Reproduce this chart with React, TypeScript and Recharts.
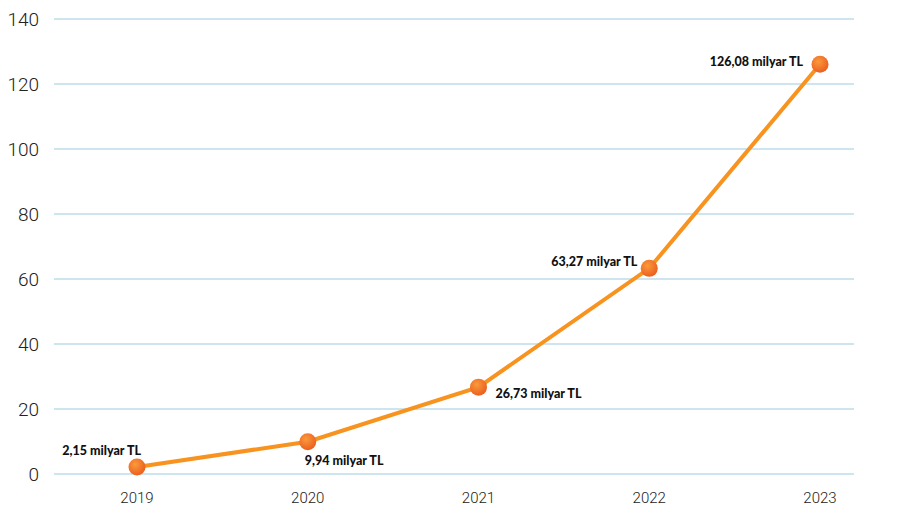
import React from "react";
import { LineChart, Line, XAxis, YAxis, CartesianGrid, LabelList } from "recharts";

const years = ["2019", "2020", "2021", "2022", "2023"];
const values = [2.15, 9.94, 26.73, 63.27, 126.08];
const valueLabels = ["2,15 milyar TL", "9,94 milyar TL", "26,73 milyar TL", "63,27 milyar TL", "126,08 milyar TL"];
const yTicks = [0, 20, 40, 60, 80, 100, 120, 140];

const data = years.map((y, i) => ({ year: y, value: values[i], label: valueLabels[i] }));

// label placement relative to point: [dx, dy, anchor]
const placement: [number, number, "start" | "end"][] = [
  [4, -17, "end"],
  [-3, 19, "start"],
  [17, 6, "start"],
  [-12, -7, "end"],
  [-17, -3, "end"],
];

const renderLabel = (props: any) => {
  const { x, y, index, value } = props;
  const [dx, dy, anchor] = placement[index];
  return (
    <text
      x={x + dx}
      y={y + dy}
      textAnchor={anchor}
      dominantBaseline="central"
      fontFamily="Lato, 'Open Sans', sans-serif"
      fontWeight={900}
      fontSize={12.5}
      fill="#111"
    >
      {value}
    </text>
  );
};

const renderDot = (props: any) => {
  const { cx, cy, index } = props;
  return <circle key={index} cx={cx} cy={cy} r={8.5} fill="url(#dotGrad)" />;
};

export default function App() {
  return (
    <div style={{ marginLeft: -8, marginTop: -8, background: "#fff", width: 900, height: 530 }}>
      <LineChart width={900} height={530} data={data} margin={{ top: 19, right: 46, left: 0, bottom: 26 }}>
        <defs>
          <radialGradient id="dotGrad" cx="40%" cy="35%" r="65%">
            <stop offset="0%" stopColor="#fa9a3c" />
            <stop offset="100%" stopColor="#ec5f1f" />
          </radialGradient>
        </defs>
        <CartesianGrid vertical={false} stroke="#bcdde8" strokeWidth={1.5} />
        <XAxis
          dataKey="year"
          axisLine={false}
          tickLine={false}
          padding={{ left: 83, right: 34 }}
          height={30}
          tick={{ fill: "#222", fontSize: 15, fontFamily: "Roboto, 'Open Sans', sans-serif", fontWeight: 300 }}
          dy={10}
        />
        <YAxis
          domain={[0, 140]}
          ticks={yTicks}
          width={54}
          axisLine={false}
          tickLine={false}
          tickMargin={9}
          tick={{ fill: "#222", fontSize: 19, fontFamily: "Roboto, 'Open Sans', sans-serif", fontWeight: 300 }}
        />
        <Line
          type="linear"
          dataKey="value"
          stroke="#f7931e"
          strokeWidth={4}
          dot={renderDot}
          activeDot={false}
          isAnimationActive={false}
        >
          <LabelList dataKey="label" content={renderLabel} />
        </Line>
      </LineChart>
    </div>
  );
}
